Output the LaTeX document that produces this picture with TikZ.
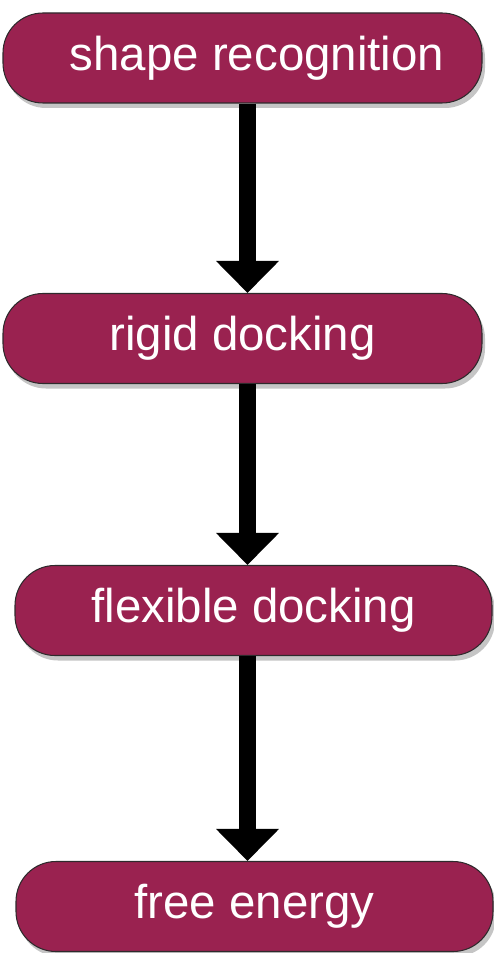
\documentclass[tikz,border=0pt]{standalone}
\usepackage{fontspec}
\setmainfont{Liberation Sans}
\usepackage{xcolor}
\usepackage{tikz}
\usetikzlibrary{arrows.meta,positioning,shadows}
\definecolor{pberry}{HTML}{9A2250}
\definecolor{pedge}{HTML}{2E2A2C}
\definecolor{pshade}{HTML}{5A5A5A}

\begin{document}
\begin{tikzpicture}[
    stage/.style={fill=pberry,draw=pedge,line width=0.6pt,rounded corners=0.8cm,
      minimum height=1.8cm,text=white,inner sep=0pt,
      font=\fontsize{27}{32}\selectfont,
      drop shadow={shadow xshift=0.06cm,shadow yshift=-0.1cm,fill=pshade,opacity=0.35}},
    flow/.style={line width=0.34cm,draw=black,
      -{Triangle[width=1.22cm,length=0.64cm]}}
  ]
  \useasboundingbox (0,0) rectangle (9.86,-19.06);
  \coordinate (axis) at (4.95,0);
  \node[stage,minimum width=9.58cm] (shape) at (4.85,-1.16) {\hspace*{0.58cm}shape recognition};
  \node[stage,minimum width=9.58cm] (rigid) at (4.85,-6.77) {rigid docking};
  \node[stage,minimum width=9.54cm] (flex) at (5.07,-12.21) {flexible docking};
  \node[stage,minimum width=9.54cm] (free) at (5.09,-18.13) {free energy};
  \draw[flow] (shape.south -| axis) -- (rigid.north -| axis);
  \draw[flow] (rigid.south -| axis) -- (flex.north -| axis);
  \draw[flow] (flex.south -| axis) -- (free.north -| axis);
\end{tikzpicture}
\end{document}
